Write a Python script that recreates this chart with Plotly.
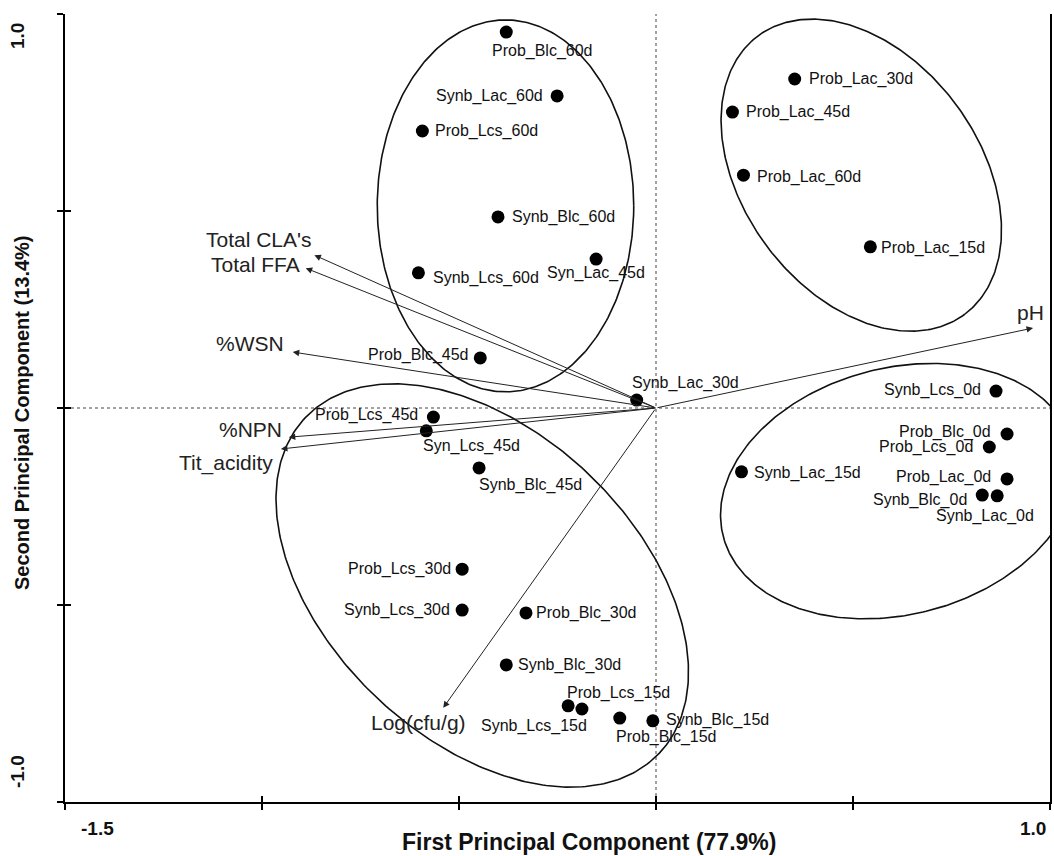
import numpy as np
import plotly.graph_objects as go

# ---------------- data ----------------
sample_names = [
    "Prob_Blc_60d", "Synb_Lac_60d", "Prob_Lcs_60d", "Synb_Blc_60d", "Syn_Lac_45d",
    "Synb_Lcs_60d", "Prob_Blc_45d", "Synb_Lac_30d", "Prob_Lcs_45d", "Syn_Lcs_45d",
    "Synb_Blc_45d", "Prob_Lcs_30d", "Synb_Lcs_30d", "Prob_Blc_30d", "Synb_Blc_30d",
    "Synb_Lcs_15d", "Prob_Lcs_15d", "Prob_Blc_15d", "Synb_Blc_15d", "Prob_Lac_30d",
    "Prob_Lac_45d", "Prob_Lac_60d", "Prob_Lac_15d", "Synb_Lcs_0d", "Prob_Blc_0d",
    "Prob_Lcs_0d", "Synb_Lac_15d", "Prob_Lac_0d", "Synb_Blc_0d", "Synb_Lac_0d",
]
pc1 = [-0.380, -0.251, -0.593, -0.401, -0.152,
       -0.603, -0.446, -0.049, -0.565, -0.583,
       -0.449, -0.492, -0.492, -0.330, -0.380,
       -0.223, -0.188, -0.092, -0.008, 0.352,
       0.194, 0.222, 0.544, 0.863, 0.891,
       0.846, 0.217, 0.891, 0.828, 0.866]
pc2 = [0.954, 0.792, 0.703, 0.485, 0.378,
       0.343, 0.127, 0.020, -0.023, -0.058,
       -0.152, -0.409, -0.513, -0.520, -0.652,
       -0.756, -0.764, -0.787, -0.794, 0.835,
       0.751, 0.591, 0.409, 0.043, -0.066,
       -0.099, -0.162, -0.180, -0.221, -0.223]

variable_names = ["Total CLA's", "Total FFA", "%WSN", "%NPN", "Tit_acidity", "Log(cfu/g)", "pH"]
load1 = [-0.867, -0.889, -0.922, -0.932, -0.952, -0.540, 0.957]
load2 = [0.388, 0.355, 0.142, -0.074, -0.104, -0.761, 0.203]

# group ellipses: centre x, centre y, semi-axis a, semi-axis b, angle (deg)
ell_cx = [-0.382, 0.521, 0.615, -0.441]
ell_cy = [0.513, 0.591, -0.211, -0.4505]
ell_a = [0.3255, 0.440, 0.459, 0.619]
ell_b = [0.472, 0.300, 0.313, 0.391]
ell_ang = [0.0, -53.5, 14.5, -43.5]

x_ticks = [-1.5, -1.0, -0.5, 0.0, 0.5, 1.0]
y_ticks = [-1.0, -0.5, 0.0, 0.5, 1.0]
x_range = [-1.5, 1.0]
y_range = [-1.0, 1.0]

# ---------------- label placement (style) ----------------
# (xanchor, dx px, dy px down)
sample_lab = [
    ("left", -16, 19), ("right", -12, 0), ("left", 11, 0), ("left", 12, 0), ("center", 0, 14),
    ("left", 13, 5), ("right", -9, -3), ("left", -7, -17), ("right", -13, -2), ("left", -5, 15),
    ("left", -2, 17), ("right", -9, 0), ("right", -10, 0), ("left", 8, 0), ("left", 10, 0),
    ("right", 21, 20), ("left", -17, -16), ("left", -6, 19), ("left", 11, -1), ("left", 12, 0),
    ("left", 12, 0), ("left", 12, 2), ("left", 9, 1), ("right", -13, -1), ("right", -14, -2),
    ("right", -14, 0), ("left", 10, 1), ("right", -14, -2), ("right", -13, 5), ("right", 39, 20),
]
var_lab = [("right", 0, -16), ("right", -4, -4), ("right", -7, -9), ("right", -5, -8),
           ("right", -6, 14), ("center", -25, 15), ("center", -3, -16)]

FONT = "Liberation Sans, Arial, Helvetica, sans-serif"

fig = go.Figure()

# ellipses
t = np.linspace(0, 2 * np.pi, 361)
for cx, cy, a, b, ang in zip(ell_cx, ell_cy, ell_a, ell_b, ell_ang):
    th = np.deg2rad(ang)
    ex = cx + a * np.cos(t) * np.cos(th) - b * np.sin(t) * np.sin(th)
    ey = cy + a * np.cos(t) * np.sin(th) + b * np.sin(t) * np.cos(th)
    fig.add_trace(go.Scatter(x=ex, y=ey, mode="lines", line=dict(color="#111", width=1.6),
                             showlegend=False, hoverinfo="skip"))

# sample points
fig.add_trace(go.Scatter(x=pc1, y=pc2, mode="markers", text=sample_names,
                         marker=dict(color="black", size=13), showlegend=False))

# dummy trace for the overlay axes (inside tick halves)
fig.add_trace(go.Scatter(x=[None], y=[None], xaxis="x2", yaxis="y2", showlegend=False,
                         hoverinfo="skip"))

annotations = []
for name, x, y, (anc, dx, dy) in zip(sample_names, pc1, pc2, sample_lab):
    annotations.append(dict(x=x, y=y, xref="x", yref="y", text=name, showarrow=False,
                            xanchor=anc, yanchor="middle", xshift=dx, yshift=-dy,
                            font=dict(family=FONT, size=16, color="#111")))

# loading vectors
for name, x, y, (anc, dx, dy) in zip(variable_names, load1, load2, var_lab):
    annotations.append(dict(x=x, y=y, ax=0, ay=0, xref="x", yref="y", axref="x", ayref="y",
                            text="", showarrow=True, arrowhead=2, arrowsize=1.3,
                            arrowwidth=1, arrowcolor="#222", standoff=0, startstandoff=0))
    annotations.append(dict(x=x, y=y, xref="x", yref="y", text=name, showarrow=False,
                            xanchor=anc, yanchor="middle", xshift=dx, yshift=-dy,
                            font=dict(family=FONT, size=21, color="#222")))

# end tick labels
tick_font = dict(family=FONT, size=19, color="#111")
annotations += [
    dict(x=x_range[0], y=0, xref="x", yref="paper", text="<b>-1.5</b>", showarrow=False,
         xanchor="center", yanchor="middle", xshift=32, yshift=-26, font=tick_font),
    dict(x=x_range[1], y=0, xref="x", yref="paper", text="<b>1.0</b>", showarrow=False,
         xanchor="center", yanchor="middle", xshift=-17, yshift=-26, font=tick_font),
    dict(x=0, y=y_range[1], xref="paper", yref="y", text="<b>1.0</b>", showarrow=False,
         textangle=-90, xanchor="center", yanchor="middle", xshift=-48, yshift=-22, font=tick_font),
    dict(x=0, y=y_range[0], xref="paper", yref="y", text="<b>-1.0</b>", showarrow=False,
         textangle=-90, xanchor="center", yanchor="middle", xshift=-48, yshift=30, font=tick_font),
    dict(x=0.532, y=0, xref="paper", yref="paper", text="<b>First Principal Component (77.9%)</b>",
         showarrow=False, xanchor="center", yanchor="middle", yshift=-40,
         font=dict(family=FONT, size=23, color="#111")),
    dict(x=0, y=0.5, xref="paper", yref="paper", text="<b>Second Principal Component (13.4%)</b>",
         showarrow=False, textangle=-90, xanchor="center", yanchor="middle", xshift=-43, yshift=-5,
         font=dict(family=FONT, size=20, color="#111")),
]

shapes = [
    dict(type="line", xref="x", yref="paper", x0=0, x1=0, y0=0, y1=1,
         line=dict(color="#444", width=1, dash="dot"), layer="below"),
    dict(type="line", xref="paper", yref="y", x0=0, x1=1, y0=0, y1=0,
         line=dict(color="#444", width=1, dash="dot"), layer="below"),
]

fig.update_layout(
    width=1054, height=856,
    margin=dict(l=65, r=2, t=14, b=54),
    paper_bgcolor="white", plot_bgcolor="white",
    showlegend=False,
    annotations=annotations,
    shapes=shapes,
    xaxis=dict(range=x_range, tickmode="array", tickvals=x_ticks, showticklabels=False,
               ticks="outside", ticklen=6, tickwidth=1.5, tickcolor="black",
               showline=True, linecolor="black", linewidth=2, mirror=False,
               showgrid=False, zeroline=False, fixedrange=True),
    yaxis=dict(range=y_range, tickmode="array", tickvals=y_ticks, showticklabels=False,
               ticks="outside", ticklen=6, tickwidth=1.5, tickcolor="black",
               showline=True, linecolor="black", linewidth=2, mirror=True,
               showgrid=False, zeroline=False, fixedrange=True),
    xaxis2=dict(range=x_range, overlaying="x", anchor="y2", side="bottom", tickmode="array",
                tickvals=x_ticks, showticklabels=False, ticks="inside", ticklen=6, tickwidth=1.5,
                tickcolor="black", showline=False, showgrid=False, zeroline=False),
    yaxis2=dict(range=y_range, overlaying="y", anchor="x2", side="left", tickmode="array",
                tickvals=y_ticks, showticklabels=False, ticks="inside", ticklen=6, tickwidth=1.5,
                tickcolor="black", showline=False, showgrid=False, zeroline=False),
)

fig.write_html(
    "out.html",
    config={"displayModeBar": False},
    post_script="document.body.style.margin='0';document.body.style.overflow='hidden';",
)
